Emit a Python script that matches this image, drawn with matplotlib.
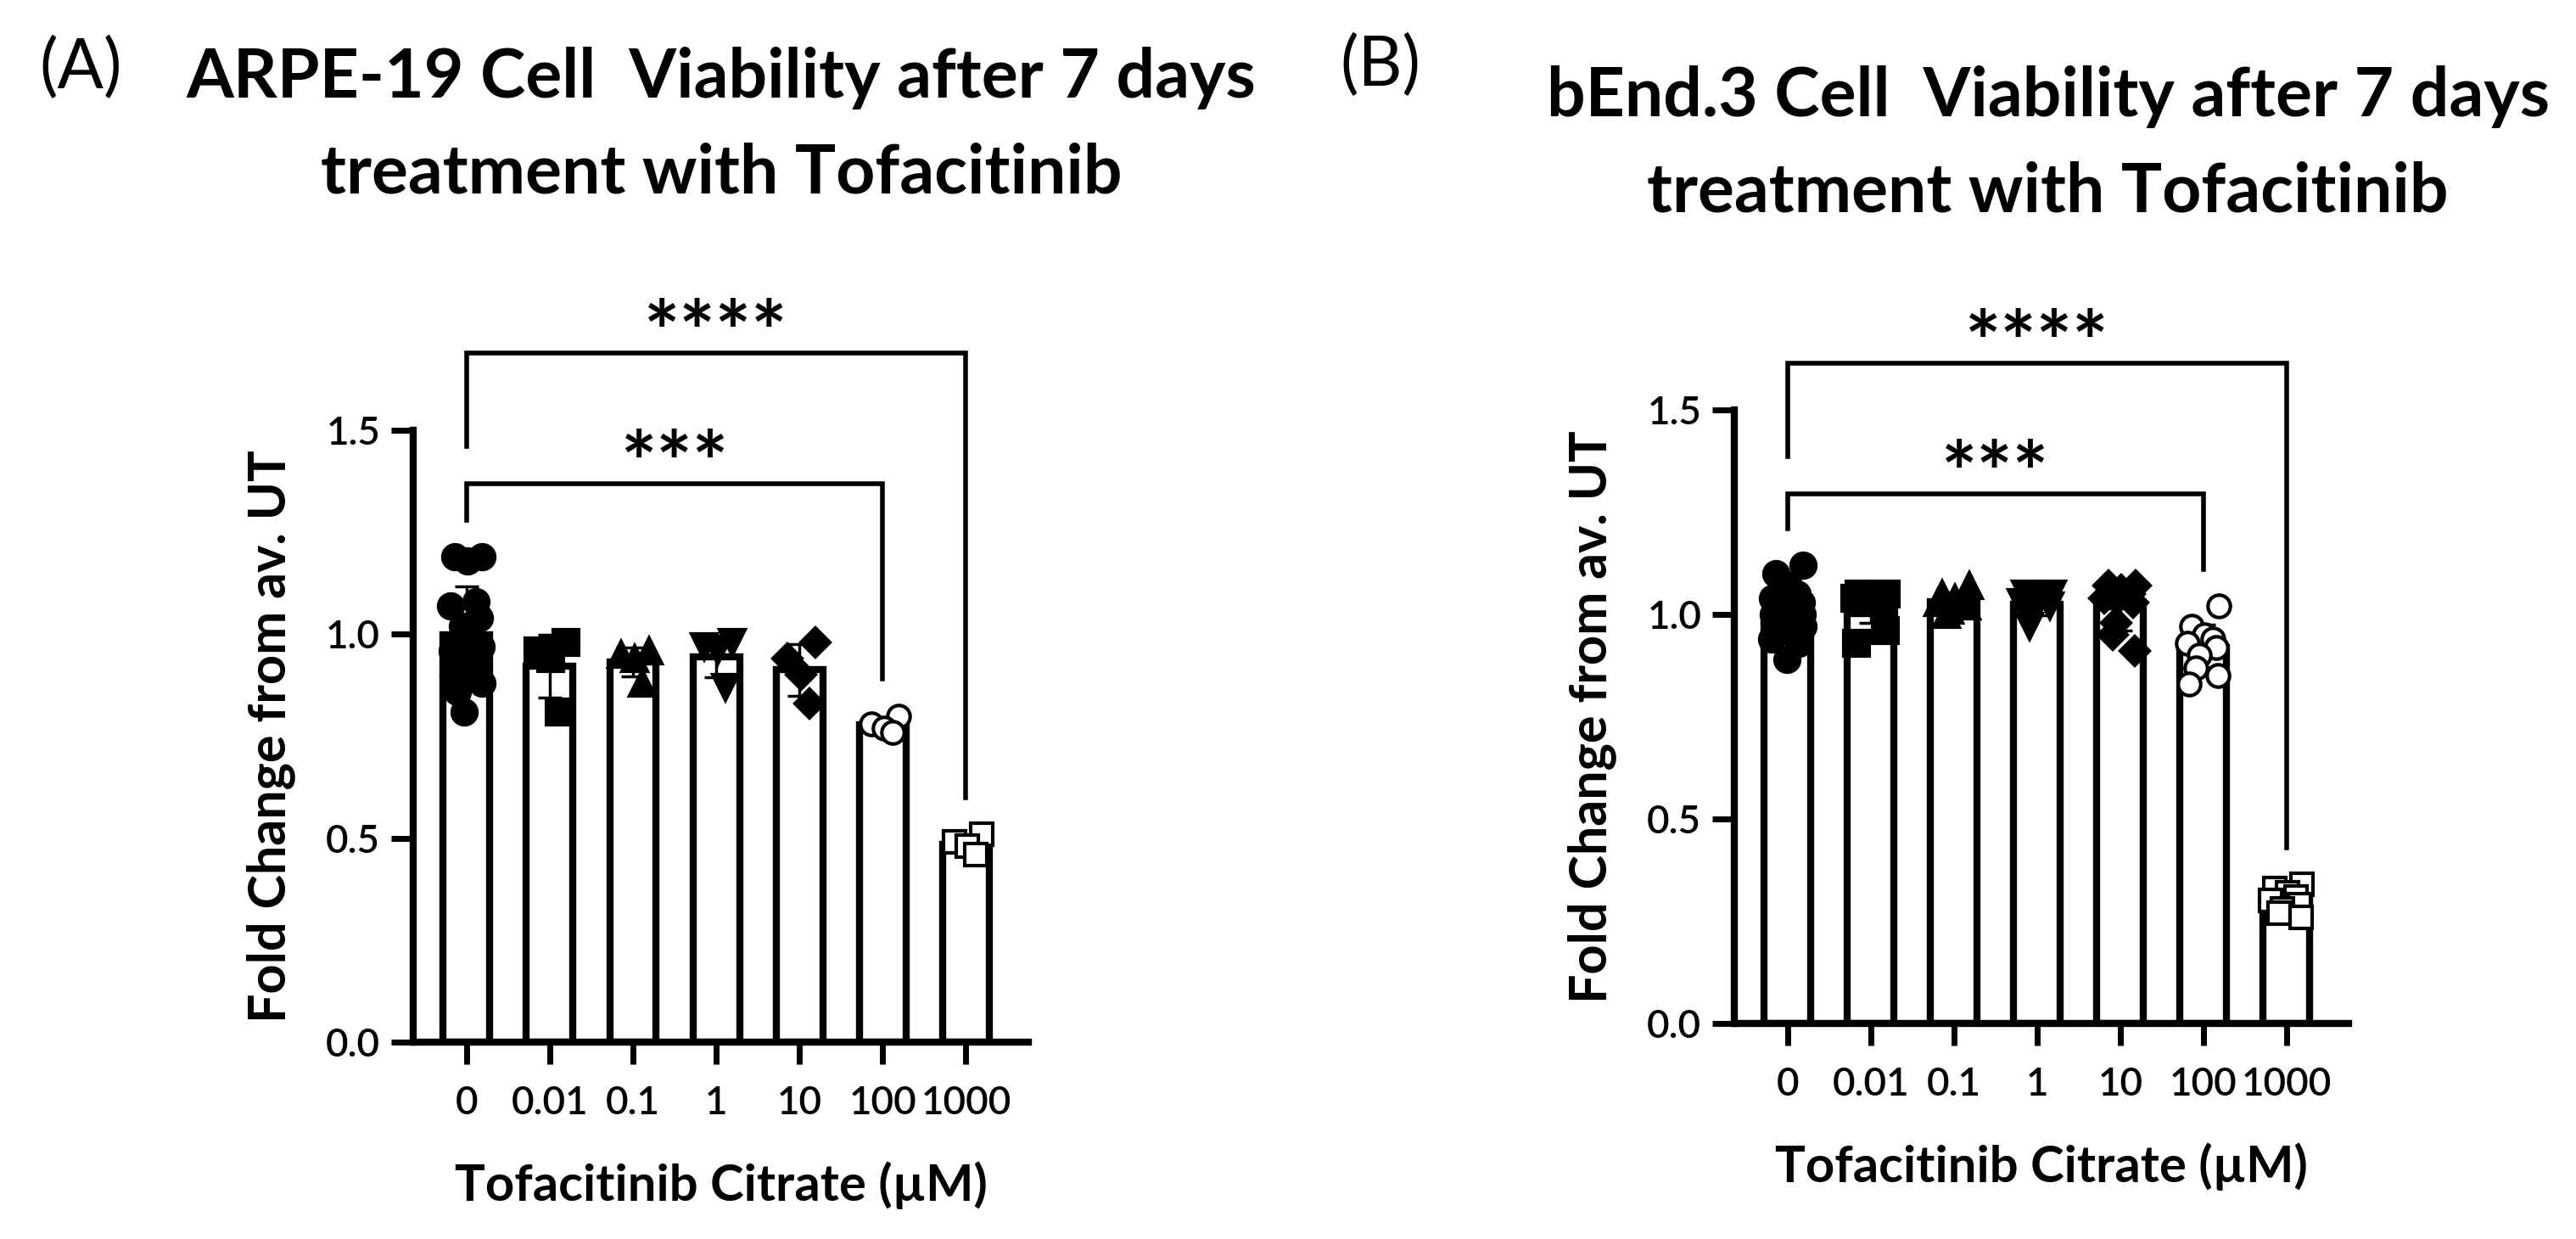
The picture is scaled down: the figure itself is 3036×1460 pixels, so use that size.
import matplotlib
matplotlib.use("Agg")
import matplotlib.pyplot as plt
import numpy as np

plt.rcParams['font.family'] = ['Lato', 'DejaVu Sans']

# x categories (Tofacitinib Citrate, uM)
doses = ['0', '0.01', '0.1', '1', '10', '100', '1000']

# Panel A: ARPE-19, fold change from average untreated
arpe_0 = [1.19, 1.19, 1.18, 1.08, 1.07, 1.04, 1.02, 0.98, 0.97, 0.96, 0.93, 0.92, 0.90, 0.88, 0.86, 0.81]
arpe_001 = [0.98, 0.96, 0.94, 0.81]
arpe_01 = [0.96, 0.95, 0.94, 0.88]
arpe_1 = [0.98, 0.97, 0.96, 0.87]
arpe_10 = [0.98, 0.94, 0.90, 0.83]
arpe_100 = [0.80, 0.78, 0.77, 0.76]
arpe_1000 = [0.51, 0.49, 0.48, 0.46]

# Panel B: bEnd.3
bend_0 = [1.12, 1.10, 1.07, 1.05, 1.04, 1.03, 1.02, 1.01, 1.00, 1.00,
          0.99, 0.99, 0.98, 0.97, 0.96, 0.96, 0.95, 0.94, 0.93, 0.89]
bend_001 = [1.05, 1.05, 1.04, 1.04, 1.04, 1.03, 1.03, 1.03, 0.96, 0.93]
bend_01 = [1.07, 1.05, 1.04, 1.03, 1.03, 1.02, 1.01, 1.00]
bend_1 = [1.05, 1.05, 1.04, 1.04, 1.03, 1.02, 1.00, 0.97]
bend_10 = [1.07, 1.07, 1.06, 1.05, 1.04, 1.03, 0.98, 0.95, 0.91]
bend_100 = [1.02, 0.97, 0.95, 0.94, 0.93, 0.92, 0.90, 0.87, 0.85, 0.83]
bend_1000 = [0.34, 0.33, 0.32, 0.31, 0.30, 0.29, 0.28, 0.27, 0.26]

# significance comparisons: (group a, group b, label)
comparisons = [(0, 5, '***'), (0, 6, '****')]
bracket_tops_A = [1.37, 1.69]
bracket_tops_B = [1.295, 1.615]

# marker style per group (filled / open like Prism defaults)
markers = ['o', 's', '^', 'v', 'D', 'o', 's']
filled = [True, True, True, True, True, False, False]
msizes = [21, 21, 22, 22, 17, 19, 19]

LW = 6


def draw_panel(ax, groups, tops):
    x = np.arange(len(groups))
    means = [np.mean(g) for g in groups]
    sds = [np.std(g, ddof=1) for g in groups]
    ax.bar(x, means, width=0.56, color='white', edgecolor='black', linewidth=LW, zorder=1)
    ax.errorbar(x, means, yerr=sds, fmt='none', ecolor='black', elinewidth=2.5,
                capsize=10, capthick=2.5, zorder=2)
    for i, g in enumerate(groups):
        n = len(g)
        offs = 0.19 * np.cos(np.arange(n) * 2.399)
        ax.plot(i + offs, g, linestyle='none', marker=markers[i], markersize=msizes[i],
                markerfacecolor='black' if filled[i] else 'white',
                markeredgecolor='black', markeredgewidth=3, zorder=3, clip_on=False)

    ax.set_xlim(-0.64, 6.75)
    ax.set_ylim(0, 1.5)
    ax.set_yticks([0, 0.5, 1.0, 1.5])
    ax.set_yticklabels(['0.0', '0.5', '1.0', '1.5'])
    ax.set_xticks(x)
    ax.set_xticklabels(doses)
    for s in ['top', 'right']:
        ax.spines[s].set_visible(False)
    for s in ['left', 'bottom']:
        ax.spines[s].set_linewidth(LW)
    ax.tick_params(axis='both', length=19, width=5, labelsize=33)
    ax.tick_params(axis='x', pad=18)
    ax.tick_params(axis='y', pad=9)
    for lab in ax.get_xticklabels() + ax.get_yticklabels():
        lab.set_fontweight('semibold')

    # brackets
    prev = max(groups[0])
    for (a, b, lab), top in zip(comparisons, tops):
        left = prev + 0.09
        right = max(groups[b]) + 0.09
        ax.plot([a, a, b, b], [left, top, top, right], color='black', lw=4,
                clip_on=False, solid_joinstyle='miter')
        ax.annotate(lab, xy=((a + b) / 2, top), xytext=(0, 12.5), textcoords='offset points',
                    ha='center', va='center', fontsize=72, fontweight='bold',
                    annotation_clip=False)
        prev = top

    ax.text(-0.232, 0.5, 'Fold Change from av. UT', transform=ax.transAxes,
            rotation=90, ha='center', va='center', fontsize=44, fontweight='bold')
    ax.text(0.5, -0.234, 'Tofacitinib Citrate (\u00b5M)', transform=ax.transAxes,
            ha='center', va='center', fontsize=43, fontweight='bold')


fig = plt.figure(figsize=(30.36, 14.6), dpi=100)
axA = fig.add_axes([0.1604, 0.1589, 0.2388, 0.4938])
axB = fig.add_axes([0.6733, 0.1740, 0.2385, 0.4952])

draw_panel(axA, [arpe_0, arpe_001, arpe_01, arpe_1, arpe_10, arpe_100, arpe_1000], bracket_tops_A)
draw_panel(axB, [bend_0, bend_001, bend_01, bend_1, bend_10, bend_100, bend_1000], bracket_tops_B)

fig.text(0.280, 0.937, 'ARPE-19 Cell  Viability after 7 days', ha='center', va='center',
         fontsize=58, fontweight='bold')
fig.text(0.280, 0.860, 'treatment with Tofacitinib', ha='center', va='center',
         fontsize=58, fontweight='bold')
fig.text(0.795, 0.922, 'bEnd.3 Cell  Viability after 7 days', ha='center', va='center',
         fontsize=58, fontweight='bold')
fig.text(0.795, 0.845, 'treatment with Tofacitinib', ha='center', va='center',
         fontsize=58, fontweight='bold')

fig.text(0.0313, 0.945, '(A)', ha='center', va='center', fontsize=58, fontweight='normal')
fig.text(0.536, 0.947, '(B)', ha='center', va='center', fontsize=58, fontweight='normal')

fig.savefig('out.png', dpi=100, facecolor='white')
